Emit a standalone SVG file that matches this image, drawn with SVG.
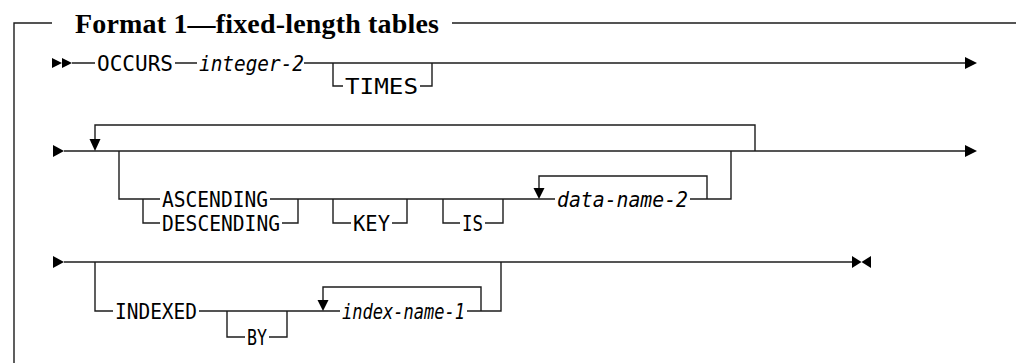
<svg xmlns="http://www.w3.org/2000/svg" width="1016" height="363" viewBox="0 0 1016 363">
<style>
.ln{fill:none;stroke:#1c1c1c;stroke-width:1.4}
.ah{fill:#000;stroke:none}
.kw{font-family:"DejaVu Sans Mono","Liberation Mono",monospace;font-size:20.5px;fill:#000}
.it{font-family:"DejaVu Sans Mono","Liberation Mono",monospace;font-size:20.5px;font-style:italic;fill:#000}
.title{font-family:"Liberation Serif","Times New Roman",serif;font-size:28px;font-weight:bold;fill:#000}
</style>
<rect width="1016" height="363" fill="#fff"/>
<g id="frame">
<path class="ln" d="M52,23 H14 V363 M452,23 H1016"/>
<text class="title" x="75" y="33" textLength="364" lengthAdjust="spacing">Format 1—fixed-length tables</text>
</g>
<g id="connectors">
<!-- row 1 -->
<polygon class="ah" points="52,58 62,63 52,68"/>
<polygon class="ah" points="62,58 72,63 62,68"/>
<path class="ln" d="M72,63 H95 M175,63 H197 M304,63 H966"/>
<polygon class="ah" points="965,57 977,63 965,69"/>
<path class="ln" d="M333,63 V86 H343 M420,86 H432 V63"/>
<!-- row 2 -->
<polygon class="ah" points="53,145 64,151 53,157"/>
<path class="ln" d="M64,151 H966"/>
<polygon class="ah" points="965,145 977,151 965,157"/>
<path class="ln" d="M755,151 V125 H95 V140"/>
<polygon class="ah" points="89.5,139 100.5,139 95,151"/>
<path class="ln" d="M119,151 V199 H160 M270,199 H555"/>
<path class="ln" d="M143,199 V223 H160 M282,223 H298 V199"/>
<path class="ln" d="M333,199 V223 H351 M392,223 H407 V199"/>
<path class="ln" d="M443,199 V223 H460 M485,223 H503 V199"/>
<path class="ln" d="M707,199 V176 H539 V188"/>
<polygon class="ah" points="533.5,188 544.5,188 539,199"/>
<path class="ln" d="M690,199 H731 V151"/>
<!-- row 3 -->
<polygon class="ah" points="53,256 64,262 53,268"/>
<path class="ln" d="M64,262 H853"/>
<polygon class="ah" points="852,256 861.5,262 852,268"/>
<polygon class="ah" points="871,256 861.5,262 871,268"/>
<path class="ln" d="M95,262 V311 H113 M199,311 H340"/>
<path class="ln" d="M227,311 V337 H245 M269,337 H287 V311"/>
<path class="ln" d="M481,311 V287 H323 V300"/>
<polygon class="ah" points="317.5,300 328.5,300 323,311"/>
<path class="ln" d="M467,311 H501 V262"/>
</g>
<g id="occurs"><text class="kw" x="97" y="70.5" textLength="76" lengthAdjust="spacingAndGlyphs">OCCURS</text></g>
<g id="integer-2"><text class="it" x="199" y="70.5" textLength="105" lengthAdjust="spacingAndGlyphs">integer-2</text></g>
<g id="times"><text class="kw" x="345" y="93.5" textLength="73" lengthAdjust="spacingAndGlyphs">TIMES</text></g>
<g id="ascending"><text class="kw" x="162" y="206.5" textLength="106" lengthAdjust="spacingAndGlyphs">ASCENDING</text></g>
<g id="descending"><text class="kw" x="162" y="230.5" textLength="118" lengthAdjust="spacingAndGlyphs">DESCENDING</text></g>
<g id="key"><text class="kw" x="353" y="230.5" textLength="37" lengthAdjust="spacingAndGlyphs">KEY</text></g>
<g id="is"><text class="kw" x="462" y="230.5" textLength="21" lengthAdjust="spacingAndGlyphs">IS</text></g>
<g id="data-name-2"><text class="it" x="557" y="206.5" textLength="131" lengthAdjust="spacingAndGlyphs">data-name-2</text></g>
<g id="indexed"><text class="kw" x="115" y="318.5" textLength="82" lengthAdjust="spacingAndGlyphs">INDEXED</text></g>
<g id="by"><text class="kw" x="247" y="344.5" textLength="20" lengthAdjust="spacingAndGlyphs">BY</text></g>
<g id="index-name-1"><text class="it" x="342" y="318.5" textLength="123" lengthAdjust="spacingAndGlyphs">index-name-1</text></g>
</svg>
